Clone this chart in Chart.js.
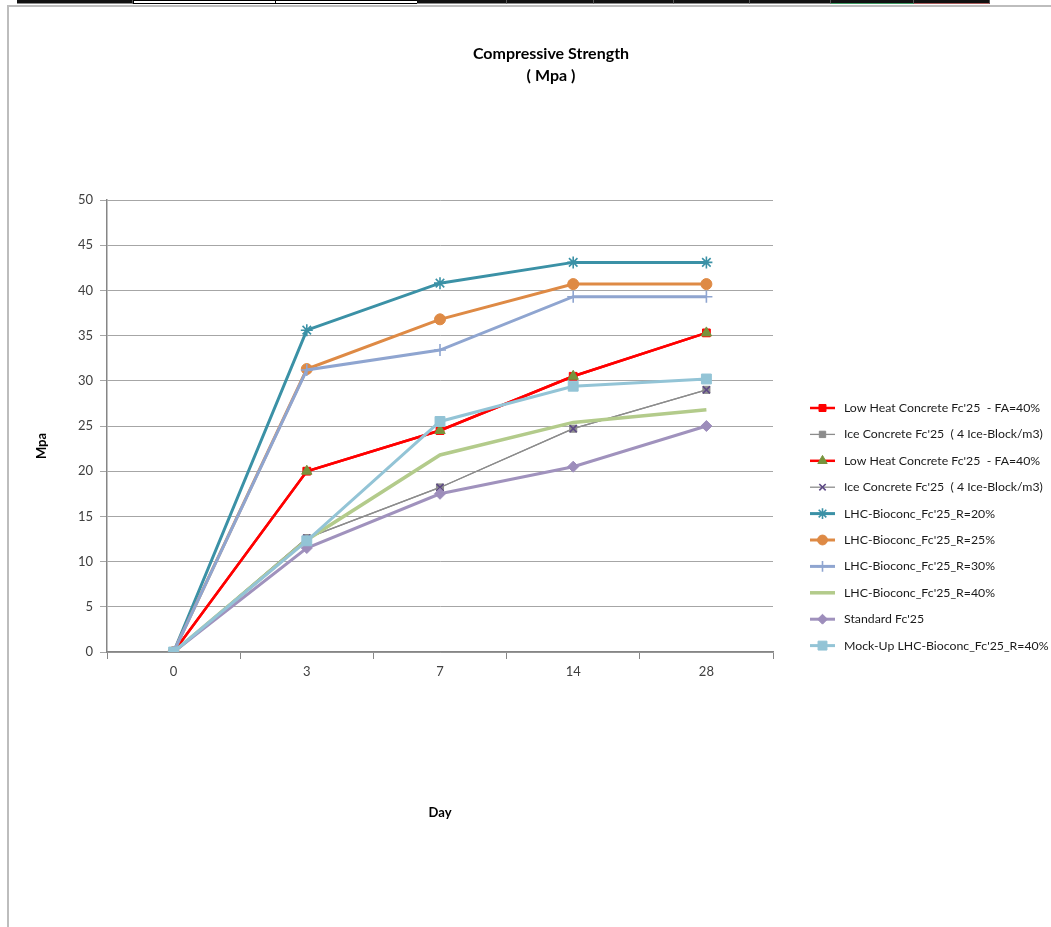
<!DOCTYPE html>
<html>
<head>
<meta charset="utf-8">
<title>Compressive Strength</title>
<script src="https://cdn.jsdelivr.net/npm/chart.js@4.4.0/dist/chart.umd.min.js"></script>
<style>
html,body{margin:0;padding:0;background:#fff;}
body{width:1051px;height:927px;position:relative;overflow:hidden;font-family:Lato,sans-serif;}
#wrap{position:absolute;left:0;top:0;width:1051px;height:927px;}
.frame{position:absolute;left:7px;top:5px;width:1060px;height:940px;border-left:2px solid #bdbdbd;border-top:2px solid #bdbdbd;pointer-events:none;}
.cell{position:absolute;top:0;height:4px;box-sizing:border-box;}
.dark{background:#111;border-bottom:1px solid #8a8a8a;border-right:1px solid #555;}
.light{background:#fff;border:1px solid #000;}
</style>
</head>
<body>
<div id="wrap"><canvas id="myChart" width="1051" height="927"></canvas></div>
<div class="frame"></div>
<div id="strip"></div>
<script>
// data
const days = ["0", "3", "7", "14", "28"];
const lowHeat  = [0, 20.0, 24.5, 30.5, 35.3];
const iceConc  = [0, 12.6, 18.2, 24.7, 29.0];
const bio20    = [0, 35.6, 40.8, 43.1, 43.1];
const bio25    = [0, 31.3, 36.8, 40.7, 40.7];
const bio30    = [0, 31.2, 33.4, 39.3, 39.3];
const bio40    = [0, 12.4, 21.8, 25.4, 26.8];
const standard = [0, 11.5, 17.5, 20.5, 25.0];
const mockUp   = [0, 12.3, 25.5, 29.4, 30.2];

const chartTitle = ["Compressive Strength", "( Mpa )"];
const yTitle = "Mpa";
const xTitle = "Day";
const yTicks = [0, 5, 10, 15, 20, 25, 30, 35, 40, 45, 50];

// the little spreadsheet strip at the very top
const stripCells = [
    [17, 133, "dark"], [133, 276, "light"], [275, 418, "light"],
    [417, 507, "dark"], [507, 594, "dark"], [594, 674, "dark"], [674, 750, "dark"],
    [750, 831, "dark"], [831, 914, "dark", "#3f9a64"], [914, 990, "dark", "#a85c5c"]
];
const strip = document.getElementById("strip");
stripCells.forEach(c => {
    const d = document.createElement("div");
    d.className = "cell " + c[2];
    d.style.left = c[0] + "px";
    d.style.width = (c[1] - c[0]) + "px";
    if (c[3]) d.style.borderBottomColor = c[3];
    strip.appendChild(d);
});

function series(label, data, color, width, style, radius, markColor, markBorder) {
    return {
        label: label,
        data: data,
        borderColor: color,
        borderWidth: width,
        pointStyle: style,
        pointRadius: radius,
        pointBackgroundColor: markColor || color,
        pointBorderColor: markBorder || markColor || color,
        pointBorderWidth: (style === "star" || style === "cross" || style === "crossRot") ? 1.6 : 1,
        tension: 0,
        fill: false
    };
}

const datasets = [
    series("Low Heat Concrete Fc'25  - FA=40%", lowHeat, "#FF0000", 2.5, "rect", 5.5),
    series("Ice Concrete Fc'25  ( 4 Ice-Block/m3)", iceConc, "#8C8C8C", 1.3, "rect", 5, "#8C8C8C"),
    series("Low Heat Concrete Fc'25  - FA=40%", lowHeat, "#FF0000", 2.5, "triangle", 6, "#77933C"),
    series("Ice Concrete Fc'25  ( 4 Ice-Block/m3)", iceConc, "#8C8C8C", 1.3, "crossRot", 5, "#5E4A86"),
    series("LHC-Bioconc_Fc'25_R=20%", bio20, "#3B91A6", 3, "star", 6),
    series("LHC-Bioconc_Fc'25_R=25%", bio25, "#DE8A45", 3, "circle", 5.5),
    series("LHC-Bioconc_Fc'25_R=30%", bio30, "#8FA5D0", 3, "cross", 6),
    series("LHC-Bioconc_Fc'25_R=40%", bio40, "#B3CB8B", 3.5, "circle", 0),
    series("Standard Fc'25", standard, "#A092BD", 3, "rectRot", 5.5, "#9D8DBB"),
    series("Mock-Up LHC-Bioconc_Fc'25_R=40%", mockUp, "#93C4D6", 3, "rect", 7)
];
// excel draws later series on top
datasets.forEach((d, i) => d.order = datasets.length - i);

const sheetText = {
    id: "sheetText",
    afterDraw(chart) {
        const ctx = chart.ctx;
        const area = chart.chartArea;
        ctx.save();
        ctx.fillStyle = "#000";
        ctx.textAlign = "center";
        ctx.textBaseline = "middle";
        ctx.font = "bold 16px Lato";
        chartTitle.forEach((t, i) => ctx.fillText(t, 551, 54 + i * 22));
        ctx.translate(42, 446);
        ctx.rotate(-Math.PI / 2);
        ctx.font = "bold 13px Lato";
        ctx.fillText(yTitle, 0, 0);
        ctx.restore();

        // legend: line sample with marker, then label
        const lx = area.right + 37;
        chart.data.datasets.forEach((ds, i) => {
            const y = 408 + i * 26.4;
            ctx.save();
            ctx.strokeStyle = ds.borderColor;
            ctx.lineWidth = ds.borderWidth;
            ctx.beginPath();
            ctx.moveTo(lx, y);
            ctx.lineTo(lx + 25, y);
            ctx.stroke();
            if (ds.pointRadius > 0) {
                ctx.fillStyle = ds.pointBackgroundColor;
                ctx.strokeStyle = ds.pointBorderColor;
                ctx.lineWidth = ds.pointBorderWidth;
                Chart.helpers.drawPoint(ctx, {
                    pointStyle: ds.pointStyle,
                    radius: ds.pointRadius * 0.9,
                    rotation: 0,
                    borderWidth: ds.pointBorderWidth
                }, lx + 12.5, y);
            }
            ctx.fillStyle = "#1a1a1a";
            ctx.font = "12.3px Lato";
            ctx.textAlign = "left";
            ctx.textBaseline = "middle";
            ctx.fillText(ds.label, lx + 34, y);
            ctx.restore();
        });
    }
};

const ctx = document.getElementById("myChart").getContext("2d");
const myChart = new Chart(ctx, {
    type: "line",
    data: {
        labels: days,
        datasets: datasets
    },
    options: {
        responsive: false,
        animation: false,
        layout: {
            padding: { left: 0, right: 278, top: 200, bottom: 102 }
        },
        plugins: {
            legend: { display: false },
            title: { display: false },
            tooltip: { enabled: false }
        },
        scales: {
            x: {
                offset: true,
                grid: {
                    offset: true,
                    drawOnChartArea: false,
                    tickLength: 7,
                    color: "#868686"
                },
                border: { color: "#868686", width: 1.5 },
                ticks: { color: "#404040", font: { family: "Lato", size: 13 }, padding: 5 },
                title: {
                    display: true,
                    text: xTitle,
                    color: "#000",
                    font: { family: "Lato", size: 13, weight: "bold" }
                },
                afterFit(scale) { scale.height = 173; }
            },
            y: {
                min: 0,
                max: 50,
                afterBuildTicks(scale) { scale.ticks = yTicks.map(v => ({ value: v })); },
                grid: { color: "#a6a6a6", lineWidth: 1, tickLength: 7 },
                border: { color: "#868686", width: 1.5 },
                ticks: { color: "#404040", font: { family: "Lato", size: 13 }, padding: 7 },
                afterFit(scale) { scale.width = 107; }
            }
        }
    },
    plugins: [sheetText]
});
</script>
</body>
</html>
